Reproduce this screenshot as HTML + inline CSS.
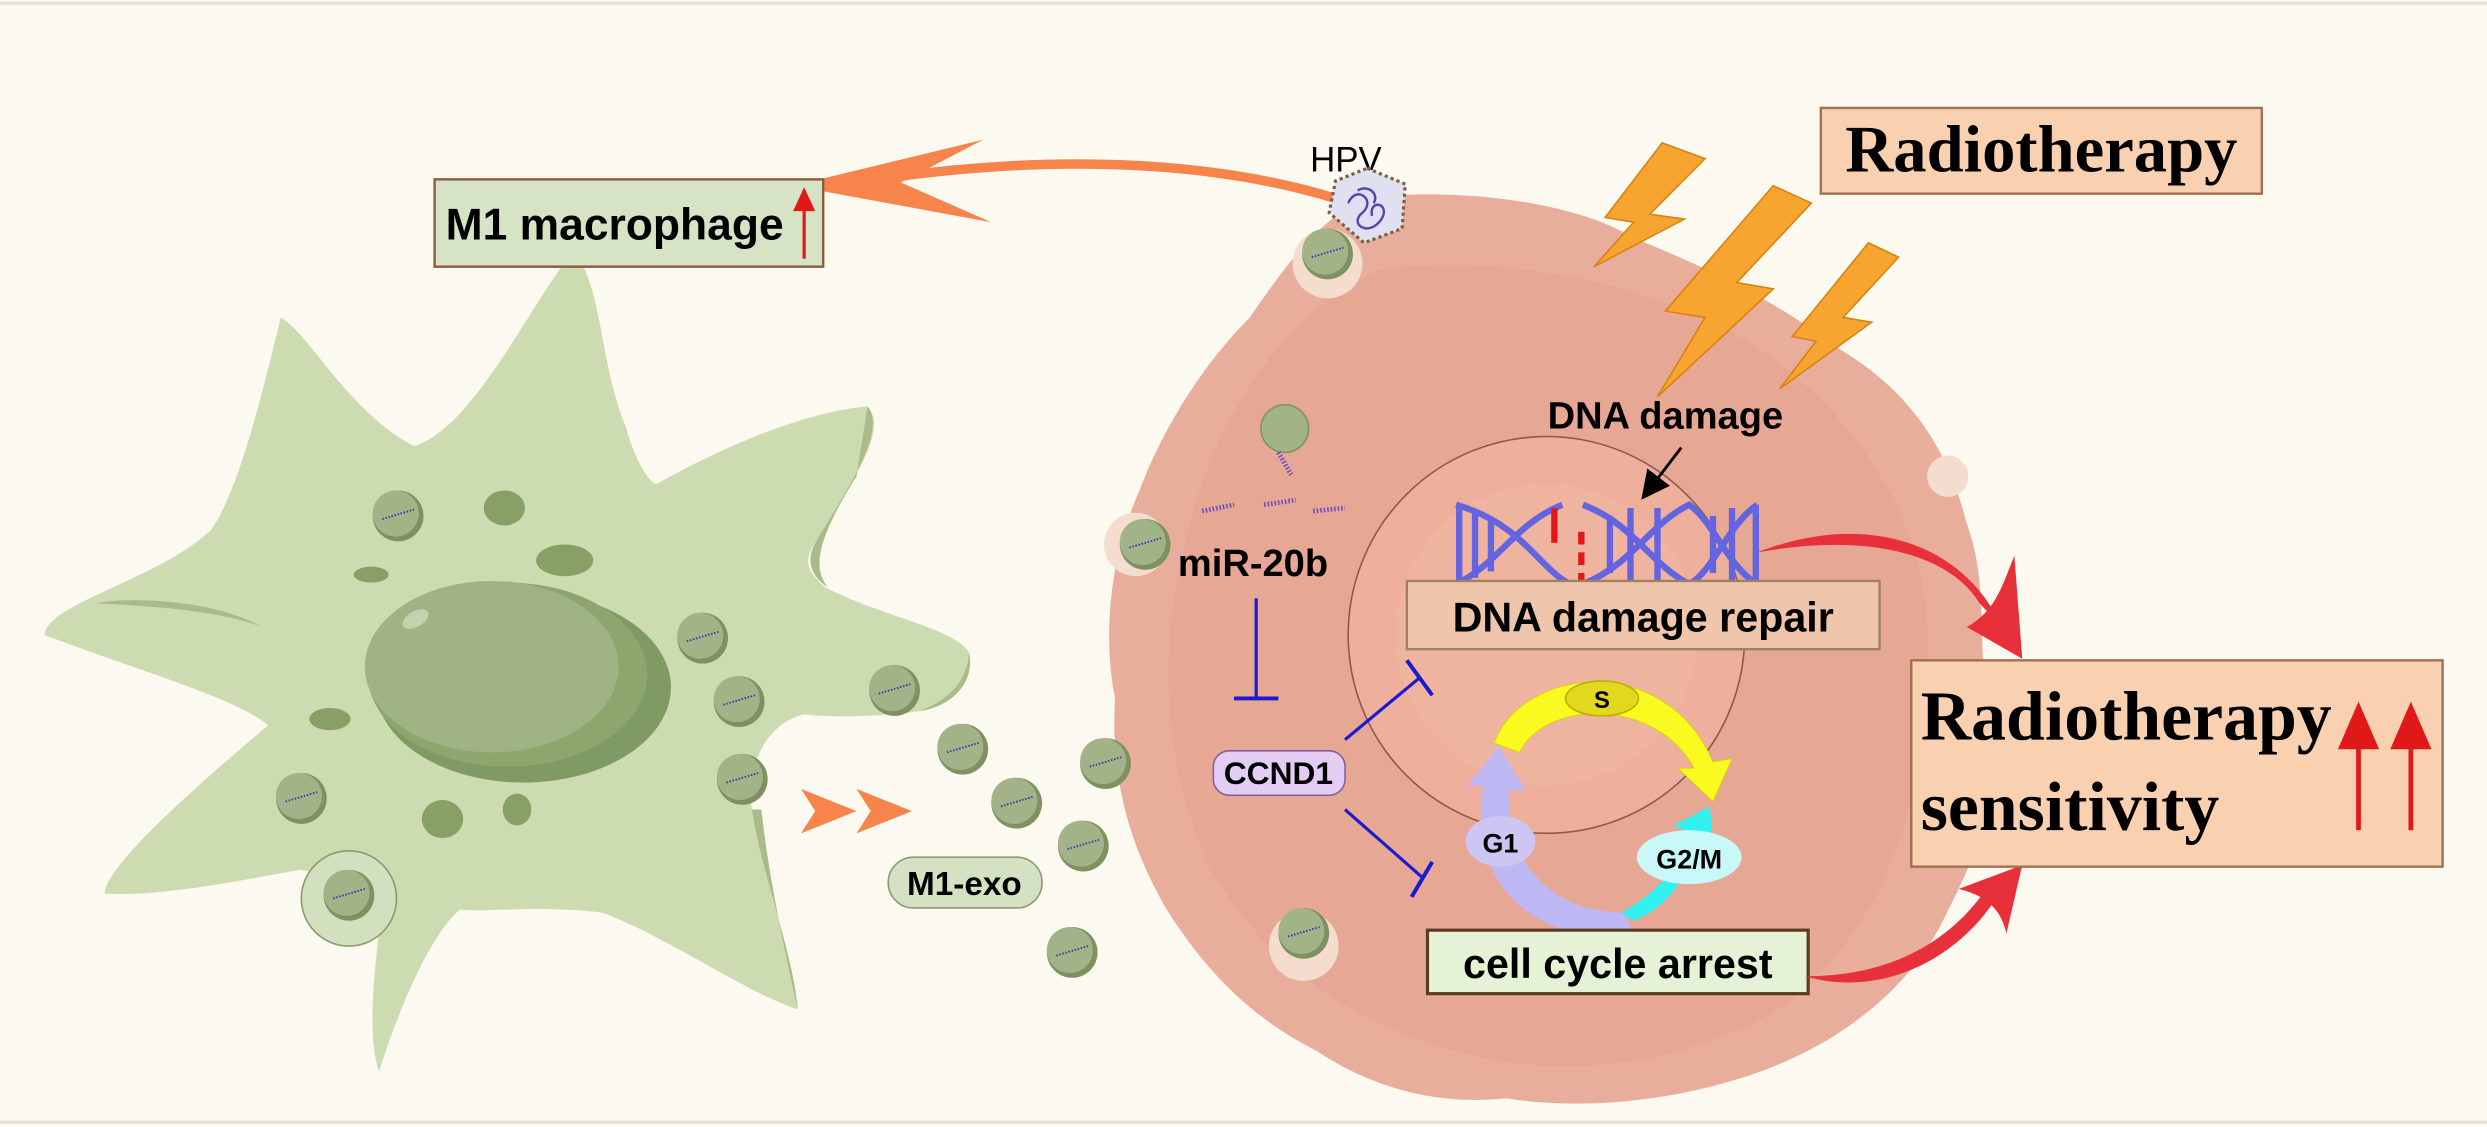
<!DOCTYPE html>
<html><head><meta charset="utf-8"><style>
html,body{margin:0;padding:0;background:#fcf9f0;}
svg{display:block;}
.sans{font-family:"Liberation Sans",Arial,sans-serif;font-weight:bold;}
.serif{font-family:"Liberation Serif","Times New Roman",serif;font-weight:bold;}
</style></head><body>
<svg width="2487" height="1127" viewBox="0 0 1568 710" preserveAspectRatio="none" xmlns="http://www.w3.org/2000/svg">
<defs>
<g id="exo"><circle r="16" fill="#7f9160"/><circle cx="-1.5" cy="-1.5" r="14.5" fill="#a2b487"/><path d="M-10,2 Q0,-1 10,-4" stroke="#3b3bb0" stroke-width="1.2" fill="none" stroke-dasharray="1 1"/></g>
<marker id="ba" markerWidth="10" markerHeight="10" refX="8" refY="5" orient="auto"><path d="M0,0 L10,5 L0,10 Z" fill="#000"/></marker>
</defs>
<rect width="1568" height="710" fill="#fcf9f0"/>
<line x1="0" y1="2" x2="1568" y2="2" stroke="#e6e2da" stroke-width="2"/>
<line x1="0" y1="707" x2="1568" y2="707" stroke="#e6e2da" stroke-width="2"/>

<!-- tumor cell -->
<path d="M860,125 C910,118 990,125 1030,150 C1080,170 1120,190 1160,220 C1210,250 1230,290 1240,330 C1255,370 1245,410 1255,450 C1265,500 1245,540 1225,580 C1205,620 1165,655 1110,675 C1060,693 1000,700 950,692 C900,697 860,682 830,662 C790,642 760,612 735,572 C712,532 700,490 703,440 C695,400 700,350 718,310 C733,270 758,230 788,200 C810,168 830,140 860,125 Z" fill="#e9ad9b"/>
<path d="M870,170 C940,160 1040,175 1110,220 C1180,270 1220,340 1215,420 C1215,500 1190,580 1130,630 C1070,670 990,680 930,665 C860,650 800,610 765,550 C735,490 730,420 745,350 C760,280 800,200 870,170 Z" fill="#e6a493" opacity="0.7"/>
<g fill="#f4dccf"><circle cx="837" cy="166" r="22"/><circle cx="716" cy="343" r="20"/><circle cx="822" cy="596" r="22"/><circle cx="1228" cy="300" r="13"/></g>
<circle cx="975" cy="400" r="125" fill="#eeb09c" stroke="#8a5a4a" stroke-width="1"/>
<circle cx="975" cy="400" r="95" fill="#f0b8a2" opacity="0.6"/>

<!-- macrophage -->
<path d="M362,159 C380,180 378,230 395,270 C400,290 410,305 414,305 C440,290 500,260 547,256 C560,270 540,300 515,340 C505,355 510,360 520,370 C560,390 600,395 611,411 C615,430 600,445 580,448 C550,452 520,452 507,450 C485,455 470,480 474,510 C480,550 500,600 503,636 C470,625 420,590 380,575 C340,570 300,575 290,573 C270,590 250,640 239,675 C230,650 238,600 241,566 C225,560 205,550 189,548 C150,555 100,565 66,563 C66,545 130,490 169,457 C150,440 80,420 28,400 C30,380 100,365 133,334 C150,310 165,250 177,200 C195,210 220,260 261,281 C300,270 340,180 362,159 Z" fill="#cddbb0"/>
<path d="M547,256 C558,270 540,300 515,340 C508,352 510,362 522,370 C512,358 515,340 540,300 Z" fill="#a9bb88"/>
<path d="M611,411 C615,430 600,445 580,448 C600,440 610,428 611,411 Z" fill="#a9bb88"/>
<path d="M474,510 C480,550 500,600 503,636 C495,600 485,555 480,510 Z" fill="#a9bb88"/>
<path d="M60,380 C90,375 140,380 165,395 C140,385 100,382 60,380 Z" fill="#a9bb88"/>
<ellipse cx="330" cy="433" rx="93" ry="60" fill="#7f9a62"/>
<ellipse cx="320" cy="425" rx="88" ry="58" fill="#8da66e"/>
<ellipse cx="310" cy="420" rx="80" ry="54" fill="#9fb384"/>
<ellipse cx="262" cy="390" rx="9" ry="5" fill="#c3d1af" transform="rotate(-30 262 390)"/>
<ellipse cx="318" cy="320" rx="13" ry="11" fill="#88a065"/>
<ellipse cx="356" cy="353" rx="18" ry="10" fill="#88a065"/>
<ellipse cx="234" cy="362" rx="11" ry="5" fill="#88a065"/>
<ellipse cx="208" cy="453" rx="13" ry="7" fill="#88a065"/>
<ellipse cx="279" cy="516" rx="13" ry="12" fill="#88a065"/>
<ellipse cx="326" cy="510" rx="9" ry="10" fill="#88a065"/>
<circle cx="220" cy="566" r="30" fill="#d3e0bf" stroke="#8a9a70" stroke-width="1"/>
<use href="#exo" x="251" y="325"/><use href="#exo" x="443" y="402"/><use href="#exo" x="466" y="442"/>
<use href="#exo" x="468" y="491"/><use href="#exo" x="564" y="435"/><use href="#exo" x="190" y="503"/>
<use href="#exo" x="220" y="564"/>
<use href="#exo" x="607" y="472"/><use href="#exo" x="641" y="506"/><use href="#exo" x="697" y="481"/>
<use href="#exo" x="683" y="533"/><use href="#exo" x="676" y="600"/><use href="#exo" x="722" y="343"/>
<use href="#exo" x="822" y="588"/><use href="#exo" x="837" y="160"/>
<circle cx="810" cy="270" r="15" fill="#a2b487" stroke="#7f9160"/>
<path d="M758,322 l20,-4 M797,318 l20,-3 M828,322 l20,-2 M806,285 l8,14" stroke="#6a50c0" stroke-width="3" stroke-dasharray="1 1.2"/>

<!-- chevrons -->
<path d="M505,497 L540,511 L505,525 L514,511 Z" fill="#f7844a"/>
<path d="M540,497 L575,511 L540,525 L549,511 Z" fill="#f7844a"/>
<rect x="560" y="540" width="97" height="32" rx="16" fill="#d4e1c2" stroke="#8b9a70"/>
<text x="608" y="564" class="sans" font-size="21" text-anchor="middle">M1-exo</text>

<!-- orange curved arrow -->
<path d="M842,125 C760,100 660,98 560,112" stroke="#f7844a" stroke-width="6" fill="none"/>
<path d="M620,88 L500,117 L625,140 L568,115 Z" fill="#f7844a"/>
<rect x="274" y="113" width="245" height="55" fill="#d6e3c4" stroke="#8b5a3c" stroke-width="1.5"/>
<text x="281" y="151" class="sans" font-size="28">M1 macrophage</text>
<line x1="507" y1="163" x2="507" y2="127" stroke="#e01818" stroke-width="2"/>
<path d="M500,133 L507,118 L514,133 Z" fill="#e01818"/>

<!-- HPV -->
<text x="826" y="108" font-family="Liberation Sans, Arial, sans-serif" font-size="22">HPV</text>
<path d="M862,106 L886,116 L884,144 L860,153 L838,134 L842,114 Z" fill="#dfe0f0" stroke="#7a6040" stroke-width="2" stroke-dasharray="2 2"/>
<path d="M850,128 c5,-12 18,-2 9,6 c-9,7 4,16 12,4 c6,-10 -8,-13 -6,-2 M856,120 c6,-4 14,2 10,8" stroke="#5a40b0" fill="none" stroke-width="1.5"/>

<!-- Radiotherapy box -->
<rect x="1148" y="68" width="278" height="54" fill="#fad1b0" stroke="#a07050" stroke-width="1.5"/>
<text x="1287" y="108" class="serif" font-size="42" text-anchor="middle">Radiotherapy</text>
<g fill="#f7a431" stroke="#d98210" stroke-width="1">
<path d="M1048,90 L1075,100 L1040,135 L1062,138 L1005,168 L1030,140 L1012,137 Z"/>
<path d="M1118,117 L1142,128 L1095,178 L1118,182 L1045,250 L1075,200 L1050,196 Z"/>
<path d="M1178,153 L1197,162 L1162,200 L1180,203 L1122,245 L1145,215 L1130,212 Z"/>
</g>

<!-- DNA -->
<text x="1050" y="270" class="sans" font-size="24" text-anchor="middle">DNA damage</text>
<line x1="1060" y1="282" x2="1037" y2="312" stroke="#000" stroke-width="1.8" marker-end="url(#ba)"/>
<g stroke="#6464e0" stroke-width="4" fill="none">
<path d="M918,318 C960,330 970,358 990,368 M918,368 C945,355 955,330 985,318"/>
<path d="M998,318 C1030,330 1040,355 1065,368 C1080,360 1090,330 1108,318"/>
<path d="M998,368 C1030,355 1040,330 1065,318 C1080,328 1090,358 1108,368"/>
<path d="M920,318 v50 M930,322 v42 M940,328 v32 M1015,325 v36 M1028,320 v46 M1045,320 v46 M1080,325 v36 M1092,320 v46 M1107,318 v50"/>
</g>
<line x1="980" y1="320" x2="980" y2="342" stroke="#e01818" stroke-width="4"/>
<line x1="997" y1="335" x2="997" y2="370" stroke="#e01818" stroke-width="4" stroke-dasharray="8 5"/>
<rect x="887" y="366" width="298" height="43" fill="#efc6ab" stroke="#a08060" stroke-width="1.5"/>
<text x="1036" y="398" class="sans" font-size="26" text-anchor="middle">DNA damage repair</text>

<!-- miR / CCND1 -->
<text x="790" y="363" class="sans" font-size="24" text-anchor="middle">miR-20b</text>
<line x1="792" y1="377" x2="792" y2="440" stroke="#1a1ad0" stroke-width="2"/>
<line x1="778" y1="440" x2="806" y2="440" stroke="#1a1ad0" stroke-width="2.5"/>
<rect x="765" y="473" width="83" height="28" rx="10" fill="#e4cdf2" stroke="#8060a0"/>
<text x="806" y="494" class="sans" font-size="20" text-anchor="middle">CCND1</text>
<line x1="848" y1="466" x2="895" y2="427" stroke="#1a1ad0" stroke-width="2"/>
<line x1="887" y1="416" x2="903" y2="438" stroke="#1a1ad0" stroke-width="2.5"/>
<line x1="848" y1="510" x2="897" y2="553" stroke="#1a1ad0" stroke-width="2"/>
<line x1="903" y1="543" x2="890" y2="565" stroke="#1a1ad0" stroke-width="2.5"/>

<!-- cell cycle -->
<path d="M942,468 C960,420 1050,410 1080,480 L1092,478 L1080,505 L1058,484 L1068,484 C1045,440 975,440 958,474 Z" fill="#fafa20" stroke="#d8d000" stroke-width="0.5"/>
<path d="M1030,590 C970,595 925,560 935,495 L925,495 L945,470 L962,498 L952,498 C948,545 980,575 1025,575 Z" fill="#bdb8f4"/>
<path d="M1030,580 C1055,570 1070,545 1065,525 L1080,530 L1078,508 L1055,520 L1062,523 C1062,545 1045,562 1022,575 Z" fill="#30f0f0"/>
<ellipse cx="1010" cy="440" rx="23" ry="11" fill="#e2d820" stroke="#b8b000"/>
<text x="1010" y="446" class="sans" font-size="15" text-anchor="middle">S</text>
<ellipse cx="946" cy="530" rx="22" ry="16" fill="#cdc6f2"/>
<text x="946" y="537" class="sans" font-size="17" text-anchor="middle">G1</text>
<ellipse cx="1065" cy="540" rx="33" ry="17" fill="#c8f8f8"/>
<text x="1065" y="547" class="sans" font-size="17" text-anchor="middle">G2/M</text>
<rect x="900" y="586" width="240" height="40" fill="#e6f2d6" stroke="#5a3c20" stroke-width="2"/>
<text x="1020" y="616" class="sans" font-size="26" text-anchor="middle">cell cycle arrest</text>

<!-- red arrows -->
<path d="M1108,348 C1180,320 1240,345 1262,395 L1248,380 C1230,350 1180,335 1108,348 Z" fill="#e8303a"/>
<path d="M1240,395 L1275,415 L1270,350 C1262,370 1258,385 1240,395 Z" fill="#e8303a"/>
<path d="M1138,615 C1190,630 1240,600 1262,560 L1255,556 C1230,595 1190,615 1138,615 Z" fill="#e8303a"/>
<path d="M1235,560 L1275,545 L1265,588 C1262,575 1255,565 1235,560 Z" fill="#e8303a"/>

<rect x="1205" y="416" width="335" height="130" fill="#fad1b0" stroke="#a07050" stroke-width="1.5"/>
<text x="1211" y="466" class="serif" font-size="44">Radiotherapy</text>
<text x="1211" y="523" class="serif" font-size="44">sensitivity</text>
<g stroke="#e01818" stroke-width="3"><line x1="1487" y1="523" x2="1487" y2="460"/><line x1="1520" y1="523" x2="1520" y2="460"/></g>
<path d="M1474,472 L1487,442 L1500,472 Z M1507,472 L1520,442 L1533,472 Z" fill="#e01818"/>
</svg>
</body></html>
